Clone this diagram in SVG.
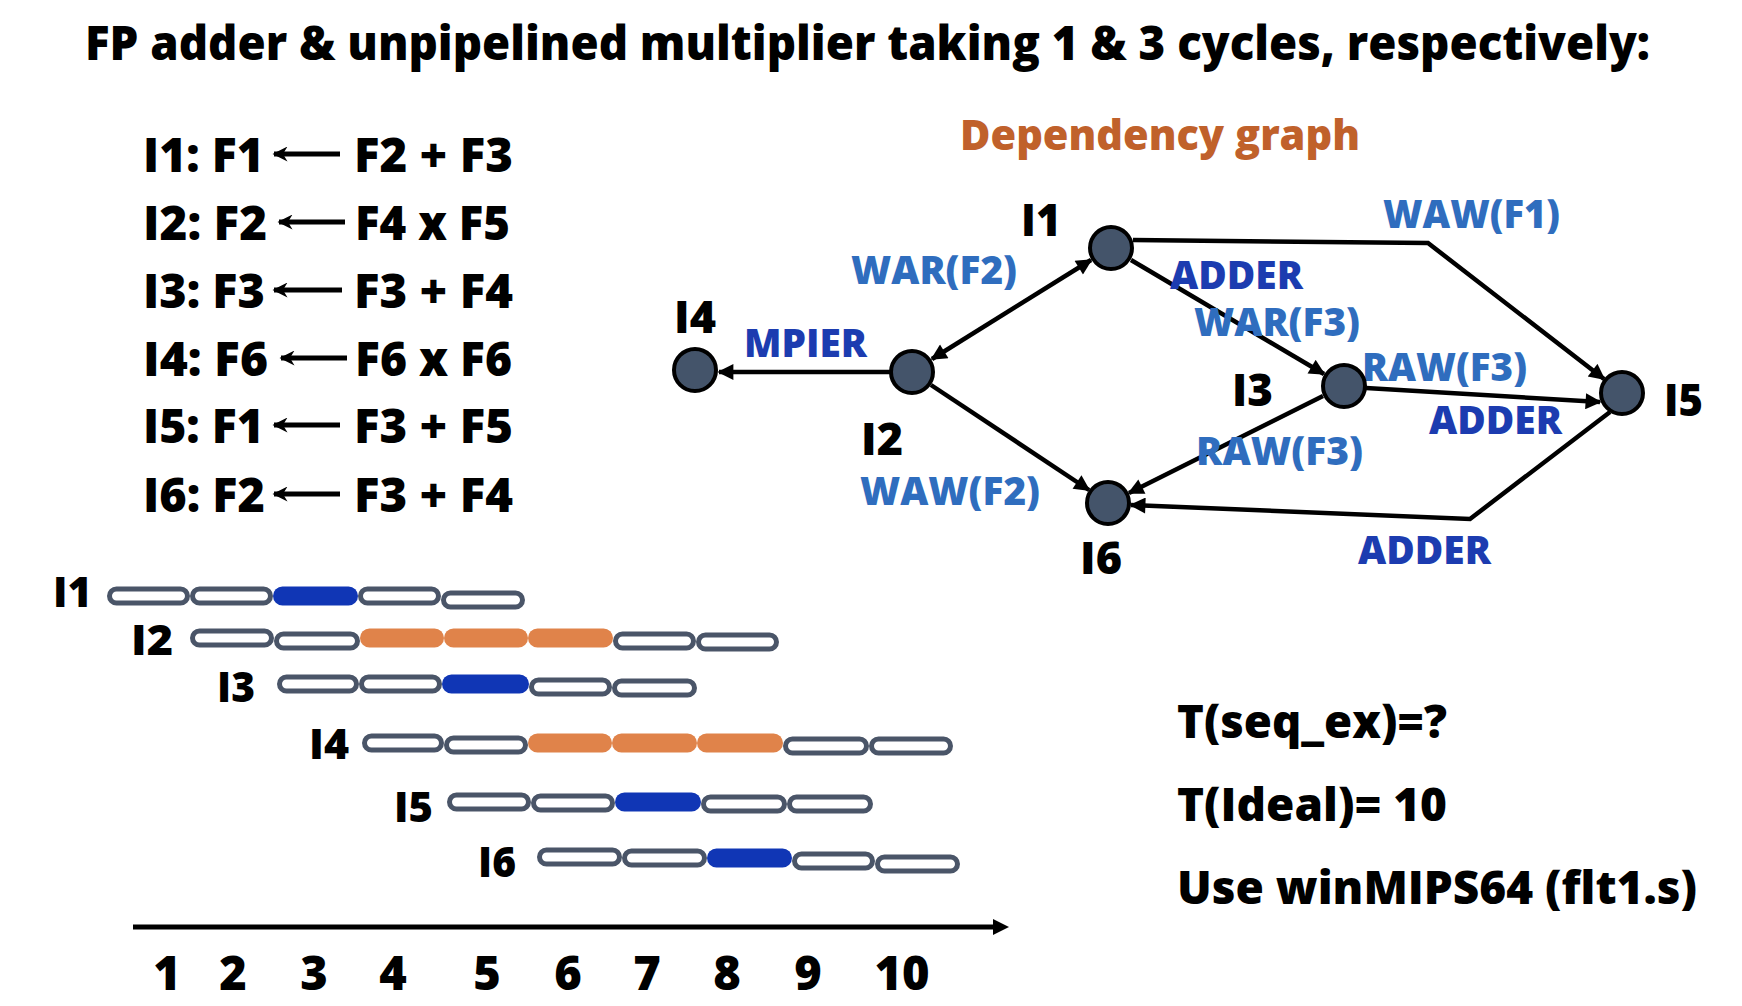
<svg xmlns="http://www.w3.org/2000/svg" width="1742" height="1006" viewBox="0 0 1742 1006">
<style>
text{font-family:"Open Sans",Lato,"Liberation Sans",sans-serif;font-weight:800}
.lb{fill:#2f6dbe;font-size:39px}
.db{fill:#1c3cb0;font-size:39px}
.nl{font-size:44px}
.ins{font-size:47px}
.o{fill:#fff;stroke:#4a5568;stroke-width:5}
.b{fill:#1036b5}
.r{fill:#e0834a}
.e{fill:none;stroke:#000;stroke-width:4.5}
.node{fill:#44546a;stroke:#000;stroke-width:4}
</style>
<defs>
<marker id="ah" viewBox="0 0 10 10" refX="9" refY="5" markerUnits="userSpaceOnUse" markerWidth="18" markerHeight="16" orient="auto-start-reverse"><path d="M0,0 L10,5 L0,10 z" fill="#000"/></marker>
<marker id="sh" viewBox="0 0 10 10" refX="9" refY="5" markerUnits="userSpaceOnUse" markerWidth="16" markerHeight="15" orient="auto"><path d="M0,0 L10,5 L0,10 L3,5 z" fill="#000"/></marker>
</defs>
<rect width="1742" height="1006" fill="#fff"/>
<text x="85" y="60" font-size="48" textLength="1565" lengthAdjust="spacingAndGlyphs">FP adder &amp; unpipelined multiplier taking 1 &amp; 3 cycles, respectively:</text>

<g id="instructions">
<text class="ins" x="143" y="172" textLength="121" lengthAdjust="spacingAndGlyphs">I1: F1</text>
<text class="ins" x="354" y="172" textLength="159" lengthAdjust="spacingAndGlyphs">F2 + F3</text>
<text class="ins" x="143" y="240" textLength="124" lengthAdjust="spacingAndGlyphs">I2: F2</text>
<text class="ins" x="355" y="240" textLength="155" lengthAdjust="spacingAndGlyphs">F4 x F5</text>
<text class="ins" x="143" y="308" textLength="122" lengthAdjust="spacingAndGlyphs">I3: F3</text>
<text class="ins" x="354" y="308" textLength="159" lengthAdjust="spacingAndGlyphs">F3 + F4</text>
<text class="ins" x="143" y="376" textLength="125" lengthAdjust="spacingAndGlyphs">I4: F6</text>
<text class="ins" x="355" y="376" textLength="157" lengthAdjust="spacingAndGlyphs">F6 x F6</text>
<text class="ins" x="143" y="443" textLength="121" lengthAdjust="spacingAndGlyphs">I5: F1</text>
<text class="ins" x="354" y="443" textLength="159" lengthAdjust="spacingAndGlyphs">F3 + F5</text>
<text class="ins" x="143" y="512" textLength="122" lengthAdjust="spacingAndGlyphs">I6: F2</text>
<text class="ins" x="354" y="512" textLength="159" lengthAdjust="spacingAndGlyphs">F3 + F4</text>
<g stroke="#000" stroke-width="5" marker-end="url(#sh)">
<line x1="340" y1="154" x2="274" y2="154"/>
<line x1="345" y1="222" x2="279" y2="222"/>
<line x1="342" y1="290" x2="274" y2="290"/>
<line x1="347" y1="358" x2="281" y2="358"/>
<line x1="340" y1="425" x2="274" y2="425"/>
<line x1="340" y1="494" x2="274" y2="494"/>
</g>
</g>

<text x="960" y="150" font-size="42" fill="#c0612b" textLength="400" lengthAdjust="spacingAndGlyphs">Dependency graph</text>

<g id="connectors">
<line class="e" x1="1091" y1="260" x2="932" y2="359" marker-start="url(#ah)" marker-end="url(#ah)"/>
<line class="e" x1="890" y1="372" x2="719" y2="372" marker-end="url(#ah)"/>
<line class="e" x1="931" y1="385" x2="1089" y2="490" marker-end="url(#ah)"/>
<line class="e" x1="1131" y1="260" x2="1324" y2="374" marker-end="url(#ah)"/>
<polyline class="e" points="1133,240 1428,243 1604,379" marker-end="url(#ah)"/>
<line class="e" x1="1366" y1="388" x2="1600" y2="402" marker-end="url(#ah)"/>
<line class="e" x1="1323" y1="396" x2="1129" y2="493" marker-end="url(#ah)"/>
<polyline class="e" points="1610,412 1470,519 1131,505" marker-end="url(#ah)"/>
</g>

<g id="edge-labels">
<text class="lb" x="1383" y="228" textLength="177" lengthAdjust="spacingAndGlyphs">WAW(F1)</text>
<text class="lb" x="851" y="284" textLength="166" lengthAdjust="spacingAndGlyphs">WAR(F2)</text>
<text class="db" x="1170" y="289" textLength="133" lengthAdjust="spacingAndGlyphs">ADDER</text>
<text class="lb" x="1194" y="336" textLength="166" lengthAdjust="spacingAndGlyphs">WAR(F3)</text>
<text class="db" x="744" y="357" textLength="123" lengthAdjust="spacingAndGlyphs">MPIER</text>
<text class="lb" x="1362" y="381" textLength="165" lengthAdjust="spacingAndGlyphs">RAW(F3)</text>
<text class="db" x="1429" y="434" textLength="133" lengthAdjust="spacingAndGlyphs">ADDER</text>
<text class="lb" x="1196" y="465" textLength="167" lengthAdjust="spacingAndGlyphs">RAW(F3)</text>
<text class="lb" x="860" y="505" textLength="180" lengthAdjust="spacingAndGlyphs">WAW(F2)</text>
<text class="db" x="1358" y="564" textLength="133" lengthAdjust="spacingAndGlyphs">ADDER</text>
</g>

<g id="node-I1"><circle class="node" cx="1111" cy="248" r="21"/><text class="nl" x="1021" y="236" textLength="40" lengthAdjust="spacingAndGlyphs">I1</text></g>
<g id="node-I2"><circle class="node" cx="912" cy="372" r="21"/><text class="nl" x="861" y="455" textLength="42" lengthAdjust="spacingAndGlyphs">I2</text></g>
<g id="node-I3"><circle class="node" cx="1344" cy="386" r="21"/><text class="nl" x="1232" y="406" textLength="41" lengthAdjust="spacingAndGlyphs">I3</text></g>
<g id="node-I4"><circle class="node" cx="695" cy="370" r="21"/><text class="nl" x="674" y="333" textLength="42" lengthAdjust="spacingAndGlyphs">I4</text></g>
<g id="node-I5"><circle class="node" cx="1622" cy="393" r="21"/><text class="nl" x="1664" y="416" textLength="39" lengthAdjust="spacingAndGlyphs">I5</text></g>
<g id="node-I6"><circle class="node" cx="1108" cy="503" r="21"/><text class="nl" x="1080" y="574" textLength="42" lengthAdjust="spacingAndGlyphs">I6</text></g>

<g id="pipeline" font-size="43">
<text x="53" y="607" textLength="39" lengthAdjust="spacingAndGlyphs">I1</text>
<rect class="o" x="109.5" y="589" width="78" height="14" rx="7"/>
<rect class="o" x="192.5" y="589" width="78" height="14" rx="7"/>
<rect class="b" x="273" y="586.5" width="85" height="19" rx="9.5"/>
<rect class="o" x="360.5" y="589" width="78" height="14" rx="7"/>
<rect class="o" x="443.5" y="593" width="79" height="14" rx="7"/>

<text x="131" y="655" textLength="42" lengthAdjust="spacingAndGlyphs">I2</text>
<rect class="o" x="192.5" y="631" width="79" height="14" rx="7"/>
<rect class="o" x="276.5" y="634" width="81" height="14" rx="7"/>
<rect class="r" x="360" y="628.5" width="84" height="19" rx="9.5"/>
<rect class="r" x="444" y="628.5" width="84" height="19" rx="9.5"/>
<rect class="r" x="528" y="628.5" width="85" height="19" rx="9.5"/>
<rect class="o" x="615.5" y="634" width="78" height="14" rx="7"/>
<rect class="o" x="698.5" y="635" width="78" height="14" rx="7"/>

<text x="217" y="702" textLength="38" lengthAdjust="spacingAndGlyphs">I3</text>
<rect class="o" x="279.5" y="677" width="77" height="14" rx="7"/>
<rect class="o" x="361.5" y="677" width="78" height="14" rx="7"/>
<rect class="b" x="442" y="674.5" width="87" height="19" rx="9.5"/>
<rect class="o" x="531.5" y="680" width="78" height="14" rx="7"/>
<rect class="o" x="614.5" y="681" width="80" height="14" rx="7"/>

<text x="309" y="759" textLength="40" lengthAdjust="spacingAndGlyphs">I4</text>
<rect class="o" x="364.5" y="736" width="77" height="14" rx="7"/>
<rect class="o" x="446.5" y="738" width="79" height="14" rx="7"/>
<rect class="r" x="528" y="733.5" width="84" height="19" rx="9.5"/>
<rect class="r" x="612" y="733.5" width="85" height="19" rx="9.5"/>
<rect class="r" x="697" y="733.5" width="86" height="19" rx="9.5"/>
<rect class="o" x="785.5" y="739" width="81" height="14" rx="7"/>
<rect class="o" x="871.5" y="739" width="79" height="14" rx="7"/>

<text x="394" y="822" textLength="39" lengthAdjust="spacingAndGlyphs">I5</text>
<rect class="o" x="449.5" y="795" width="79" height="14" rx="7"/>
<rect class="o" x="533.5" y="796" width="79" height="14" rx="7"/>
<rect class="b" x="615" y="792.5" width="86" height="19" rx="9.5"/>
<rect class="o" x="703.5" y="797" width="81" height="14" rx="7"/>
<rect class="o" x="789.5" y="797" width="81" height="14" rx="7"/>

<text x="478" y="877" textLength="38" lengthAdjust="spacingAndGlyphs">I6</text>
<rect class="o" x="539.5" y="850" width="80" height="14" rx="7"/>
<rect class="o" x="624.5" y="851" width="80" height="14" rx="7"/>
<rect class="b" x="707" y="848.5" width="85" height="19" rx="9.5"/>
<rect class="o" x="794.5" y="854" width="78" height="14" rx="7"/>
<rect class="o" x="877.5" y="857" width="80" height="14" rx="7"/>
</g>

<g id="time-axis">
<line x1="133" y1="927" x2="996" y2="927" stroke="#000" stroke-width="5"/>
<path d="M993,919 L1009,927 L993,935 z" fill="#000"/>
<g font-size="47" text-anchor="middle">
<text x="167" y="990">1</text>
<text x="233" y="990">2</text>
<text x="314" y="990">3</text>
<text x="393" y="990">4</text>
<text x="487" y="990">5</text>
<text x="568" y="990">6</text>
<text x="647" y="990">7</text>
<text x="727" y="990">8</text>
<text x="808" y="990">9</text>
<text x="902" y="990">10</text>
</g>
</g>

<g id="notes" font-size="46">
<text x="1177" y="738" textLength="270" lengthAdjust="spacingAndGlyphs">T(seq_ex)=?</text>
<text x="1177" y="821" textLength="270" lengthAdjust="spacingAndGlyphs">T(Ideal)= 10</text>
<text x="1177" y="904" textLength="520" lengthAdjust="spacingAndGlyphs">Use winMIPS64 (flt1.s)</text>
</g>
</svg>
